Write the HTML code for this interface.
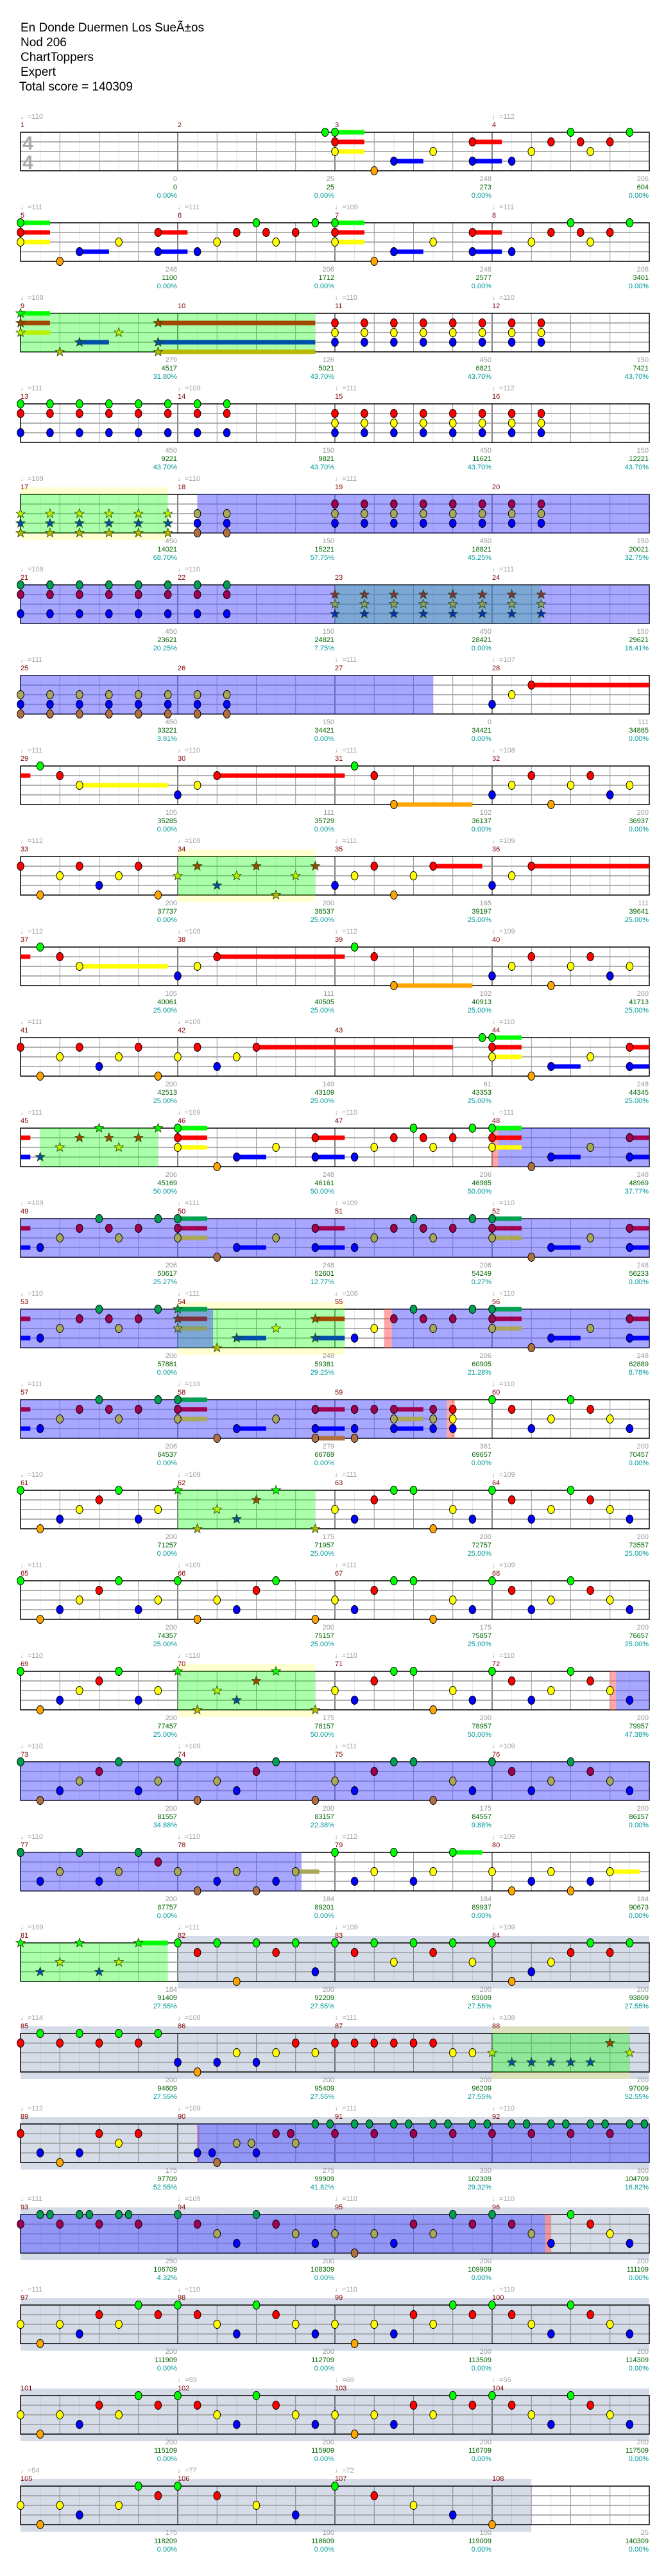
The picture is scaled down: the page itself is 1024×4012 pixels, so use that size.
<!DOCTYPE html>
<html><head><meta charset="utf-8">
<style>
html,body{margin:0;padding:0;background:#fff;}
svg{display:block;}
text{font-family:"Liberation Sans",sans-serif;}
.h{font-size:19px;fill:#000;}
.t{font-size:11px;fill:#a0a0a0;}
.m{font-size:11px;fill:#800000;}
.a{font-size:11px;fill:#999;text-anchor:end;}
.b{font-size:11px;fill:#006400;text-anchor:end;}
.c{font-size:11px;fill:#009999;text-anchor:end;}
.ts{font-size:30px;fill:#aaa;font-weight:bold;}
</style></head><body>
<svg id="s" width="1024" height="4012" viewBox="0 0 1024 4012" xmlns="http://www.w3.org/2000/svg">
<rect width="1024" height="4012" fill="#fff"/>
<g id="L"></g>
<text class="h" x="32" y="49">En Donde Duermen Los SueÃ±os</text>
<text class="h" x="32" y="72">Nod 206</text>
<text class="h" x="32" y="95">ChartToppers</text>
<text class="h" x="32" y="118">Expert</text>
<text class="h" x="30" y="141">Total score = 140309</text>
<text class="ts" x="35" y="233">4</text><text class="ts" x="35" y="263">4</text>

<g transform="translate(0,206)">
<text class="t" y="-21"><tspan x="32">♩=110</tspan><tspan x="767">♩=112</tspan></text>
<text class="m" y="-8"><tspan x="32">1</tspan><tspan x="277">2</tspan><tspan x="522">3</tspan><tspan x="767">4</tspan></text>
<text class="a" y="76"><tspan x="276">0</tspan><tspan x="521">25</tspan><tspan x="766">248</tspan><tspan x="1011">206</tspan></text>
<text class="b" y="89"><tspan x="276">0</tspan><tspan x="521">25</tspan><tspan x="766">273</tspan><tspan x="1011">604</tspan></text>
<text class="c" y="102"><tspan x="276">0.00%</tspan><tspan x="521">0.00%</tspan><tspan x="766">0.00%</tspan><tspan x="1011">0.00%</tspan></text>
</g>
<g transform="translate(0,347)">
<text class="t" y="-21"><tspan x="32">♩=111</tspan><tspan x="277">♩=111</tspan><tspan x="522">♩=109</tspan><tspan x="767">♩=111</tspan></text>
<text class="m" y="-8"><tspan x="32">5</tspan><tspan x="277">6</tspan><tspan x="522">7</tspan><tspan x="767">8</tspan></text>
<text class="a" y="76"><tspan x="276">248</tspan><tspan x="521">206</tspan><tspan x="766">248</tspan><tspan x="1011">206</tspan></text>
<text class="b" y="89"><tspan x="276">1100</tspan><tspan x="521">1712</tspan><tspan x="766">2577</tspan><tspan x="1011">3401</tspan></text>
<text class="c" y="102"><tspan x="276">0.00%</tspan><tspan x="521">0.00%</tspan><tspan x="766">0.00%</tspan><tspan x="1011">0.00%</tspan></text>
</g>
<g transform="translate(0,488)">
<text class="t" y="-21"><tspan x="32">♩=108</tspan><tspan x="522">♩=110</tspan><tspan x="767">♩=110</tspan></text>
<text class="m" y="-8"><tspan x="32">9</tspan><tspan x="277">10</tspan><tspan x="522">11</tspan><tspan x="767">12</tspan></text>
<text class="a" y="76"><tspan x="276">279</tspan><tspan x="521">126</tspan><tspan x="766">450</tspan><tspan x="1011">150</tspan></text>
<text class="b" y="89"><tspan x="276">4517</tspan><tspan x="521">5021</tspan><tspan x="766">6821</tspan><tspan x="1011">7421</tspan></text>
<text class="c" y="102"><tspan x="276">31.80%</tspan><tspan x="521">43.70%</tspan><tspan x="766">43.70%</tspan><tspan x="1011">43.70%</tspan></text>
</g>
<g transform="translate(0,629)">
<text class="t" y="-21"><tspan x="32">♩=111</tspan><tspan x="277">♩=109</tspan><tspan x="522">♩=111</tspan><tspan x="767">♩=112</tspan></text>
<text class="m" y="-8"><tspan x="32">13</tspan><tspan x="277">14</tspan><tspan x="522">15</tspan><tspan x="767">16</tspan></text>
<text class="a" y="76"><tspan x="276">450</tspan><tspan x="521">150</tspan><tspan x="766">450</tspan><tspan x="1011">150</tspan></text>
<text class="b" y="89"><tspan x="276">9221</tspan><tspan x="521">9821</tspan><tspan x="766">11621</tspan><tspan x="1011">12221</tspan></text>
<text class="c" y="102"><tspan x="276">43.70%</tspan><tspan x="521">43.70%</tspan><tspan x="766">43.70%</tspan><tspan x="1011">43.70%</tspan></text>
</g>
<g transform="translate(0,770)">
<text class="t" y="-21"><tspan x="32">♩=109</tspan><tspan x="277">♩=110</tspan><tspan x="522">♩=111</tspan></text>
<text class="m" y="-8"><tspan x="32">17</tspan><tspan x="277">18</tspan><tspan x="522">19</tspan><tspan x="767">20</tspan></text>
<text class="a" y="76"><tspan x="276">450</tspan><tspan x="521">150</tspan><tspan x="766">450</tspan><tspan x="1011">150</tspan></text>
<text class="b" y="89"><tspan x="276">14021</tspan><tspan x="521">15221</tspan><tspan x="766">18821</tspan><tspan x="1011">20021</tspan></text>
<text class="c" y="102"><tspan x="276">68.70%</tspan><tspan x="521">57.75%</tspan><tspan x="766">45.25%</tspan><tspan x="1011">32.75%</tspan></text>
</g>
<g transform="translate(0,911)">
<text class="t" y="-21"><tspan x="32">♩=108</tspan><tspan x="277">♩=110</tspan><tspan x="767">♩=111</tspan></text>
<text class="m" y="-8"><tspan x="32">21</tspan><tspan x="277">22</tspan><tspan x="522">23</tspan><tspan x="767">24</tspan></text>
<text class="a" y="76"><tspan x="276">450</tspan><tspan x="521">150</tspan><tspan x="766">450</tspan><tspan x="1011">150</tspan></text>
<text class="b" y="89"><tspan x="276">23621</tspan><tspan x="521">24821</tspan><tspan x="766">28421</tspan><tspan x="1011">29621</tspan></text>
<text class="c" y="102"><tspan x="276">20.25%</tspan><tspan x="521">7.75%</tspan><tspan x="766">0.00%</tspan><tspan x="1011">16.41%</tspan></text>
</g>
<g transform="translate(0,1052)">
<text class="t" y="-21"><tspan x="32">♩=111</tspan><tspan x="522">♩=111</tspan><tspan x="767">♩=107</tspan></text>
<text class="m" y="-8"><tspan x="32">25</tspan><tspan x="277">26</tspan><tspan x="522">27</tspan><tspan x="767">28</tspan></text>
<text class="a" y="76"><tspan x="276">450</tspan><tspan x="521">150</tspan><tspan x="766">0</tspan><tspan x="1011">111</tspan></text>
<text class="b" y="89"><tspan x="276">33221</tspan><tspan x="521">34421</tspan><tspan x="766">34421</tspan><tspan x="1011">34865</tspan></text>
<text class="c" y="102"><tspan x="276">3.91%</tspan><tspan x="521">0.00%</tspan><tspan x="766">0.00%</tspan><tspan x="1011">0.00%</tspan></text>
</g>
<g transform="translate(0,1193)">
<text class="t" y="-21"><tspan x="32">♩=111</tspan><tspan x="277">♩=110</tspan><tspan x="522">♩=111</tspan><tspan x="767">♩=108</tspan></text>
<text class="m" y="-8"><tspan x="32">29</tspan><tspan x="277">30</tspan><tspan x="522">31</tspan><tspan x="767">32</tspan></text>
<text class="a" y="76"><tspan x="276">105</tspan><tspan x="521">111</tspan><tspan x="766">102</tspan><tspan x="1011">200</tspan></text>
<text class="b" y="89"><tspan x="276">35285</tspan><tspan x="521">35729</tspan><tspan x="766">36137</tspan><tspan x="1011">36937</tspan></text>
<text class="c" y="102"><tspan x="276">0.00%</tspan><tspan x="521">0.00%</tspan><tspan x="766">0.00%</tspan><tspan x="1011">0.00%</tspan></text>
</g>
<g transform="translate(0,1334)">
<text class="t" y="-21"><tspan x="32">♩=112</tspan><tspan x="277">♩=109</tspan><tspan x="522">♩=111</tspan><tspan x="767">♩=109</tspan></text>
<text class="m" y="-8"><tspan x="32">33</tspan><tspan x="277">34</tspan><tspan x="522">35</tspan><tspan x="767">36</tspan></text>
<text class="a" y="76"><tspan x="276">200</tspan><tspan x="521">200</tspan><tspan x="766">165</tspan><tspan x="1011">111</tspan></text>
<text class="b" y="89"><tspan x="276">37737</tspan><tspan x="521">38537</tspan><tspan x="766">39197</tspan><tspan x="1011">39641</tspan></text>
<text class="c" y="102"><tspan x="276">0.00%</tspan><tspan x="521">25.00%</tspan><tspan x="766">25.00%</tspan><tspan x="1011">25.00%</tspan></text>
</g>
<g transform="translate(0,1475)">
<text class="t" y="-21"><tspan x="32">♩=112</tspan><tspan x="277">♩=108</tspan><tspan x="522">♩=112</tspan><tspan x="767">♩=109</tspan></text>
<text class="m" y="-8"><tspan x="32">37</tspan><tspan x="277">38</tspan><tspan x="522">39</tspan><tspan x="767">40</tspan></text>
<text class="a" y="76"><tspan x="276">105</tspan><tspan x="521">111</tspan><tspan x="766">102</tspan><tspan x="1011">200</tspan></text>
<text class="b" y="89"><tspan x="276">40061</tspan><tspan x="521">40505</tspan><tspan x="766">40913</tspan><tspan x="1011">41713</tspan></text>
<text class="c" y="102"><tspan x="276">25.00%</tspan><tspan x="521">25.00%</tspan><tspan x="766">25.00%</tspan><tspan x="1011">25.00%</tspan></text>
</g>
<g transform="translate(0,1616)">
<text class="t" y="-21"><tspan x="32">♩=111</tspan><tspan x="277">♩=109</tspan><tspan x="767">♩=110</tspan></text>
<text class="m" y="-8"><tspan x="32">41</tspan><tspan x="277">42</tspan><tspan x="522">43</tspan><tspan x="767">44</tspan></text>
<text class="a" y="76"><tspan x="276">200</tspan><tspan x="521">149</tspan><tspan x="766">61</tspan><tspan x="1011">248</tspan></text>
<text class="b" y="89"><tspan x="276">42513</tspan><tspan x="521">43109</tspan><tspan x="766">43353</tspan><tspan x="1011">44345</tspan></text>
<text class="c" y="102"><tspan x="276">25.00%</tspan><tspan x="521">25.00%</tspan><tspan x="766">25.00%</tspan><tspan x="1011">25.00%</tspan></text>
</g>
<g transform="translate(0,1757)">
<text class="t" y="-21"><tspan x="32">♩=111</tspan><tspan x="277">♩=109</tspan><tspan x="522">♩=110</tspan><tspan x="767">♩=111</tspan></text>
<text class="m" y="-8"><tspan x="32">45</tspan><tspan x="277">46</tspan><tspan x="522">47</tspan><tspan x="767">48</tspan></text>
<text class="a" y="76"><tspan x="276">206</tspan><tspan x="521">248</tspan><tspan x="766">206</tspan><tspan x="1011">248</tspan></text>
<text class="b" y="89"><tspan x="276">45169</tspan><tspan x="521">46161</tspan><tspan x="766">46985</tspan><tspan x="1011">48969</tspan></text>
<text class="c" y="102"><tspan x="276">50.00%</tspan><tspan x="521">50.00%</tspan><tspan x="766">50.00%</tspan><tspan x="1011">37.77%</tspan></text>
</g>
<g transform="translate(0,1898)">
<text class="t" y="-21"><tspan x="32">♩=109</tspan><tspan x="277">♩=111</tspan><tspan x="522">♩=109</tspan><tspan x="767">♩=110</tspan></text>
<text class="m" y="-8"><tspan x="32">49</tspan><tspan x="277">50</tspan><tspan x="522">51</tspan><tspan x="767">52</tspan></text>
<text class="a" y="76"><tspan x="276">206</tspan><tspan x="521">248</tspan><tspan x="766">206</tspan><tspan x="1011">248</tspan></text>
<text class="b" y="89"><tspan x="276">50617</tspan><tspan x="521">52601</tspan><tspan x="766">54249</tspan><tspan x="1011">56233</tspan></text>
<text class="c" y="102"><tspan x="276">25.27%</tspan><tspan x="521">12.77%</tspan><tspan x="766">0.27%</tspan><tspan x="1011">0.00%</tspan></text>
</g>
<g transform="translate(0,2039)">
<text class="t" y="-21"><tspan x="32">♩=110</tspan><tspan x="277">♩=111</tspan><tspan x="522">♩=108</tspan><tspan x="767">♩=110</tspan></text>
<text class="m" y="-8"><tspan x="32">53</tspan><tspan x="277">54</tspan><tspan x="522">55</tspan><tspan x="767">56</tspan></text>
<text class="a" y="76"><tspan x="276">206</tspan><tspan x="521">248</tspan><tspan x="766">206</tspan><tspan x="1011">248</tspan></text>
<text class="b" y="89"><tspan x="276">57881</tspan><tspan x="521">59381</tspan><tspan x="766">60905</tspan><tspan x="1011">62889</tspan></text>
<text class="c" y="102"><tspan x="276">0.00%</tspan><tspan x="521">29.25%</tspan><tspan x="766">21.28%</tspan><tspan x="1011">8.78%</tspan></text>
</g>
<g transform="translate(0,2180)">
<text class="t" y="-21"><tspan x="32">♩=111</tspan><tspan x="277">♩=110</tspan><tspan x="767">♩=110</tspan></text>
<text class="m" y="-8"><tspan x="32">57</tspan><tspan x="277">58</tspan><tspan x="522">59</tspan><tspan x="767">60</tspan></text>
<text class="a" y="76"><tspan x="276">206</tspan><tspan x="521">279</tspan><tspan x="766">361</tspan><tspan x="1011">200</tspan></text>
<text class="b" y="89"><tspan x="276">64537</tspan><tspan x="521">66769</tspan><tspan x="766">69657</tspan><tspan x="1011">70457</tspan></text>
<text class="c" y="102"><tspan x="276">0.00%</tspan><tspan x="521">0.00%</tspan><tspan x="766">0.00%</tspan><tspan x="1011">0.00%</tspan></text>
</g>
<g transform="translate(0,2321)">
<text class="t" y="-21"><tspan x="32">♩=110</tspan><tspan x="277">♩=109</tspan><tspan x="522">♩=111</tspan><tspan x="767">♩=109</tspan></text>
<text class="m" y="-8"><tspan x="32">61</tspan><tspan x="277">62</tspan><tspan x="522">63</tspan><tspan x="767">64</tspan></text>
<text class="a" y="76"><tspan x="276">200</tspan><tspan x="521">175</tspan><tspan x="766">200</tspan><tspan x="1011">200</tspan></text>
<text class="b" y="89"><tspan x="276">71257</tspan><tspan x="521">71957</tspan><tspan x="766">72757</tspan><tspan x="1011">73557</tspan></text>
<text class="c" y="102"><tspan x="276">0.00%</tspan><tspan x="521">25.00%</tspan><tspan x="766">25.00%</tspan><tspan x="1011">25.00%</tspan></text>
</g>
<g transform="translate(0,2462)">
<text class="t" y="-21"><tspan x="32">♩=111</tspan><tspan x="277">♩=109</tspan><tspan x="522">♩=111</tspan><tspan x="767">♩=109</tspan></text>
<text class="m" y="-8"><tspan x="32">65</tspan><tspan x="277">66</tspan><tspan x="522">67</tspan><tspan x="767">68</tspan></text>
<text class="a" y="76"><tspan x="276">200</tspan><tspan x="521">200</tspan><tspan x="766">175</tspan><tspan x="1011">200</tspan></text>
<text class="b" y="89"><tspan x="276">74357</tspan><tspan x="521">75157</tspan><tspan x="766">75857</tspan><tspan x="1011">76657</tspan></text>
<text class="c" y="102"><tspan x="276">25.00%</tspan><tspan x="521">25.00%</tspan><tspan x="766">25.00%</tspan><tspan x="1011">25.00%</tspan></text>
</g>
<g transform="translate(0,2603)">
<text class="t" y="-21"><tspan x="32">♩=110</tspan><tspan x="277">♩=110</tspan><tspan x="522">♩=110</tspan><tspan x="767">♩=110</tspan></text>
<text class="m" y="-8"><tspan x="32">69</tspan><tspan x="277">70</tspan><tspan x="522">71</tspan><tspan x="767">72</tspan></text>
<text class="a" y="76"><tspan x="276">200</tspan><tspan x="521">175</tspan><tspan x="766">200</tspan><tspan x="1011">200</tspan></text>
<text class="b" y="89"><tspan x="276">77457</tspan><tspan x="521">78157</tspan><tspan x="766">78957</tspan><tspan x="1011">79957</tspan></text>
<text class="c" y="102"><tspan x="276">25.00%</tspan><tspan x="521">50.00%</tspan><tspan x="766">50.00%</tspan><tspan x="1011">47.38%</tspan></text>
</g>
<g transform="translate(0,2744)">
<text class="t" y="-21"><tspan x="32">♩=110</tspan><tspan x="277">♩=109</tspan><tspan x="522">♩=111</tspan><tspan x="767">♩=109</tspan></text>
<text class="m" y="-8"><tspan x="32">73</tspan><tspan x="277">74</tspan><tspan x="522">75</tspan><tspan x="767">76</tspan></text>
<text class="a" y="76"><tspan x="276">200</tspan><tspan x="521">200</tspan><tspan x="766">175</tspan><tspan x="1011">200</tspan></text>
<text class="b" y="89"><tspan x="276">81557</tspan><tspan x="521">83157</tspan><tspan x="766">84557</tspan><tspan x="1011">86157</tspan></text>
<text class="c" y="102"><tspan x="276">34.88%</tspan><tspan x="521">22.38%</tspan><tspan x="766">9.88%</tspan><tspan x="1011">0.00%</tspan></text>
</g>
<g transform="translate(0,2885)">
<text class="t" y="-21"><tspan x="32">♩=110</tspan><tspan x="277">♩=110</tspan><tspan x="522">♩=112</tspan><tspan x="767">♩=109</tspan></text>
<text class="m" y="-8"><tspan x="32">77</tspan><tspan x="277">78</tspan><tspan x="522">79</tspan><tspan x="767">80</tspan></text>
<text class="a" y="76"><tspan x="276">200</tspan><tspan x="521">184</tspan><tspan x="766">184</tspan><tspan x="1011">184</tspan></text>
<text class="b" y="89"><tspan x="276">87757</tspan><tspan x="521">89201</tspan><tspan x="766">89937</tspan><tspan x="1011">90673</tspan></text>
<text class="c" y="102"><tspan x="276">0.00%</tspan><tspan x="521">0.00%</tspan><tspan x="766">0.00%</tspan><tspan x="1011">0.00%</tspan></text>
</g>
<g transform="translate(0,3026)">
<text class="t" y="-21"><tspan x="32">♩=109</tspan><tspan x="277">♩=111</tspan><tspan x="522">♩=109</tspan><tspan x="767">♩=109</tspan></text>
<text class="m" y="-8"><tspan x="32">81</tspan><tspan x="277">82</tspan><tspan x="522">83</tspan><tspan x="767">84</tspan></text>
<text class="a" y="76"><tspan x="276">184</tspan><tspan x="521">200</tspan><tspan x="766">200</tspan><tspan x="1011">200</tspan></text>
<text class="b" y="89"><tspan x="276">91409</tspan><tspan x="521">92209</tspan><tspan x="766">93009</tspan><tspan x="1011">93809</tspan></text>
<text class="c" y="102"><tspan x="276">27.55%</tspan><tspan x="521">27.55%</tspan><tspan x="766">27.55%</tspan><tspan x="1011">27.55%</tspan></text>
</g>
<g transform="translate(0,3167)">
<text class="t" y="-21"><tspan x="32">♩=114</tspan><tspan x="277">♩=108</tspan><tspan x="522">♩=111</tspan><tspan x="767">♩=108</tspan></text>
<text class="m" y="-8"><tspan x="32">85</tspan><tspan x="277">86</tspan><tspan x="522">87</tspan><tspan x="767">88</tspan></text>
<text class="a" y="76"><tspan x="276">200</tspan><tspan x="521">200</tspan><tspan x="766">200</tspan><tspan x="1011">200</tspan></text>
<text class="b" y="89"><tspan x="276">94609</tspan><tspan x="521">95409</tspan><tspan x="766">96209</tspan><tspan x="1011">97009</tspan></text>
<text class="c" y="102"><tspan x="276">27.55%</tspan><tspan x="521">27.55%</tspan><tspan x="766">27.55%</tspan><tspan x="1011">52.55%</tspan></text>
</g>
<g transform="translate(0,3308)">
<text class="t" y="-21"><tspan x="32">♩=112</tspan><tspan x="277">♩=109</tspan><tspan x="522">♩=111</tspan><tspan x="767">♩=110</tspan></text>
<text class="m" y="-8"><tspan x="32">89</tspan><tspan x="277">90</tspan><tspan x="522">91</tspan><tspan x="767">92</tspan></text>
<text class="a" y="76"><tspan x="276">175</tspan><tspan x="521">275</tspan><tspan x="766">300</tspan><tspan x="1011">300</tspan></text>
<text class="b" y="89"><tspan x="276">97709</tspan><tspan x="521">99909</tspan><tspan x="766">102309</tspan><tspan x="1011">104709</tspan></text>
<text class="c" y="102"><tspan x="276">52.55%</tspan><tspan x="521">41.82%</tspan><tspan x="766">29.32%</tspan><tspan x="1011">16.82%</tspan></text>
</g>
<g transform="translate(0,3449)">
<text class="t" y="-21"><tspan x="32">♩=111</tspan><tspan x="277">♩=109</tspan><tspan x="522">♩=110</tspan><tspan x="767">♩=110</tspan></text>
<text class="m" y="-8"><tspan x="32">93</tspan><tspan x="277">94</tspan><tspan x="522">95</tspan><tspan x="767">96</tspan></text>
<text class="a" y="76"><tspan x="276">250</tspan><tspan x="521">200</tspan><tspan x="766">200</tspan><tspan x="1011">200</tspan></text>
<text class="b" y="89"><tspan x="276">106709</tspan><tspan x="521">108309</tspan><tspan x="766">109909</tspan><tspan x="1011">111109</tspan></text>
<text class="c" y="102"><tspan x="276">4.32%</tspan><tspan x="521">0.00%</tspan><tspan x="766">0.00%</tspan><tspan x="1011">0.00%</tspan></text>
</g>
<g transform="translate(0,3590)">
<text class="t" y="-21"><tspan x="32">♩=111</tspan><tspan x="277">♩=110</tspan><tspan x="522">♩=110</tspan><tspan x="767">♩=110</tspan></text>
<text class="m" y="-8"><tspan x="32">97</tspan><tspan x="277">98</tspan><tspan x="522">99</tspan><tspan x="767">100</tspan></text>
<text class="a" y="76"><tspan x="276">200</tspan><tspan x="521">200</tspan><tspan x="766">200</tspan><tspan x="1011">200</tspan></text>
<text class="b" y="89"><tspan x="276">111909</tspan><tspan x="521">112709</tspan><tspan x="766">113509</tspan><tspan x="1011">114309</tspan></text>
<text class="c" y="102"><tspan x="276">0.00%</tspan><tspan x="521">0.00%</tspan><tspan x="766">0.00%</tspan><tspan x="1011">0.00%</tspan></text>
</g>
<g transform="translate(0,3731)">
<text class="t" y="-21"><tspan x="277">♩=93</tspan><tspan x="522">♩=69</tspan><tspan x="767">♩=55</tspan></text>
<text class="m" y="-8"><tspan x="32">101</tspan><tspan x="277">102</tspan><tspan x="522">103</tspan><tspan x="767">104</tspan></text>
<text class="a" y="76"><tspan x="276">200</tspan><tspan x="521">200</tspan><tspan x="766">200</tspan><tspan x="1011">200</tspan></text>
<text class="b" y="89"><tspan x="276">115109</tspan><tspan x="521">115909</tspan><tspan x="766">116709</tspan><tspan x="1011">117509</tspan></text>
<text class="c" y="102"><tspan x="276">0.00%</tspan><tspan x="521">0.00%</tspan><tspan x="766">0.00%</tspan><tspan x="1011">0.00%</tspan></text>
</g>
<g transform="translate(0,3872)">
<text class="t" y="-21"><tspan x="32">♩=54</tspan><tspan x="277">♩=77</tspan><tspan x="522">♩=72</tspan></text>
<text class="m" y="-8"><tspan x="32">105</tspan><tspan x="277">106</tspan><tspan x="522">107</tspan><tspan x="767">108</tspan></text>
<text class="a" y="76"><tspan x="276">175</tspan><tspan x="521">100</tspan><tspan x="766">100</tspan><tspan x="1011">25</tspan></text>
<text class="b" y="89"><tspan x="276">118209</tspan><tspan x="521">118609</tspan><tspan x="766">119009</tspan><tspan x="1011">140309</tspan></text>
<text class="c" y="102"><tspan x="276">0.00%</tspan><tspan x="521">0.00%</tspan><tspan x="766">0.00%</tspan><tspan x="1011">0.00%</tspan></text>
</g>
</svg>
<script>
(function(){
var NS="http://www.w3.org/2000/svg",L=document.getElementById('L');
function el(t,a,p){var e=document.createElementNS(NS,t);for(var k in a)e.setAttribute(k,a[k]);(p||L).appendChild(e);return e;}
var X=function(e){return 32+e*30.625;};
var LC={g:'#00ff00',r:'#ff0000',y:'#ffff00',b:'#0000ff',o:'#ffa500'};
var MC={g:'#00a050',r:'#a00050',y:'#a8a858',b:'#0000ff',o:'#b07040'};
var SC={g:'#00ff00',r:'#a04800',y:'#b8f000',b:'#0050a8',o:'#b8b800'};
var SMC={g:'#00a050',r:'#803040',y:'#90a060',b:'#0030c0',o:'#a09040'};
var LY={g:0,r:15,y:30,b:45,o:60};
function sh(s,o){return s.trim().split(/\s+/).map(function(t){var m=t.match(/^(_?)([a-z])([\d.]+)(?:-([\d.]+))?$/);var r=m[1]+m[2]+(parseFloat(m[3])+o);if(m[4])r+='-'+(parseFloat(m[4])+o);return r;}).join(' ');}
function ch(lanes,arr){var o=[];arr.forEach(function(e){lanes.split('').forEach(function(l){o.push(l+e);});});return o.join(' ');}
var Q="g0-1.5 r0-1.5 y0-1.5 o2 b3-4.5 y5 r7-8.5 b7-8.5 b9 y10 r11 g12 r12.5 y13 r14 g15";
var TT="b1 y2 r3 g4 r4.5 y5 r6 g7";
var REM="_r0-0.5 _b0-0.5 ";
var W="g0 o1 b2 y3 r4 g5 b6 y7 g8 o9 y10 b11 r12 g13 o15 y16 b17 r18 g19 g20 o21 y22 b23 g24 r25 b26 y27 g28 r29 y30 b31";
var V="_r0-0.5 g1 r2 y3-7.5 b8 y9 r10-16.5 g17 r18 o19-23 b24 y25 r26 o27 y28 r29 b30 y31";
var X8="y0 o1 y2 b3 r4 y5 g6 r7 g8 r9 y10 b11 g12 r13 y14 b15 y16 o17 y18 b19 r20 y21 g22 r23 g24 r25 y26 b27 g28 r29 y30 b31";
var C16=[16,17.5,19,20.5,22,23.5,25,26.5],C0=[0,1.5,3,4.5,6,7.5,9,10.5];
var rows=[
["", "g15.5 "+sh(Q,16)],
["", Q+" "+sh(Q,16)],
["g0-15", "g0-1.5 r0-1.5 y0-1.5 o2 b3-4.5 y5 r7-15 b7-15 o7-15 "+ch('ryb',C16)],
["", ch('grb',C0)+" "+ch('ryb',C16)],
["y0-7.5 B9-32", ch('ybo',[0,1.5,3,4.5,6,7.5,9,10.5])+" "+ch('ryb',C16)],
["B0-32 g16-26.5", ch('grb',C0)+" "+ch('ryb',C16)],
["B0-21", ch('ybo',C0)+" b24 y25 r26-32"],
["", V],
["y8-15", "r0 o1 y2 r3 b4 y5 r6 o7 y8 r9 b10 y11 r12 o13 y14 r15 b16 y17 r18 o19 y20 r21-23.5 b24 y25 r26-32"],
["", V],
["", "r0 o1 y2 r3 b4 y5 r6 o7 y8 r9 b10 y11 r12-22 g23.5 g24-25.5 r24-25.5 y24-25.5 o26 b27-28.5 y29 r31-32 b31-32"],
["g1-7 B24.3-32 P24-24.3", REM+TT+" "+sh(Q,8)+" "+sh(Q,24)],
["B0-32", REM+TT+" "+sh(Q,8)+" "+sh(Q,24)],
["B0-9.8 y8-16.5 P18.5-18.9 B18.9-32", REM+TT+" "+sh(Q,8)+" "+sh(Q,24)],
["B0-21.7 P21.7-22.1", REM+TT+" g8-9.5 r8-9.5 y8-9.5 o10 b11-12.5 y13 r15-16.5 b15-16.5 o15-16.5 r17 b17 o17 r18 r19-20.5 y19-20.5 b19-20.5 r21 y21 b21 r22 y22 b22 g24 r25 b26 y27 g28 r29 y30 b31"],
["g8-15", W],
["", W],
["y8-15 P30-30.3 B30.3-32", W],
["B0-32", W],
["B0-14.3", "g0 b1 y2 g3 b4 y5 g6 r7 y8 o9 b10 y11 o12 b13 y14-15.2 g16 b17 y18 g19 b20 y21 g22-23.5 y24 o25 b26 y27 o28 b29 y30-31.5"],
["g0-7.5 G8-32", "g0 b1 y2 g3 b4 y5 g6-7.5 g8 r9 g10 o11 g12 r13 g14 b15 g16 r17 g18 y19 g20 r21 g22 y23 g24 o25 b26 y27 r28 g29 r30 g31"],
["G0-32 y24-31", "r0 g1 r2 g3 r4 g5 r6 g7 b8 o9 b10 y11 b12 y13 r14 y15 r16 r17 r18 r19 r20 r21 y22 y23 y24 b25 b26 b27 b28 b29 r30 y31"],
["G0-32 P9-9.1 B9-32", "r0 b1 o2 b3 r4 y5 r6 b9 b9.75 o10 y11 y11.75 b12 r13 r13.75 y14 g15 g15.75 r16 g17 g17.75 r18 g19 g19.75 r20 g21 g21.75 r22 g23 g23.75 r24 g25 g25.75 r26 g27 g27.75 r28 g29 g29.75 r30 g31 g31.75"],
["G0-32 B0-26.7 P26.7-27", "r0 g1 g1.5 r2 g3 g3.5 r4 g5 g5.5 r6 g8 r9 y10 b11 g12 r13 y14 b15 y16 o17 y18 b19 r20 y21 g22 r23 g24 r25 y26 b27 g28 r29 y30 b31"],
["G0-32", X8],
["G0-32", X8],
["G0-26", "y0 o1 y2 b3 y5 g6 r7 g8 r10 y12 b14 g16 r18 y20 b22 o24"]
];
var gBg=el('g',{}),gGrid=el('g',{}),gOvG=el('g',{}),gOv=el('g',{}),gSus=el('g',{}),gN=el('g',{});
function star(cx,cy,r,f,p){var pts=[];for(var i=0;i<10;i++){var a=-Math.PI/2+i*Math.PI/5,rr=i%2?r*0.42:r;pts.push((cx+rr*Math.cos(a)).toFixed(1)+','+(cy+rr*Math.sin(a)).toFixed(1));}el('polygon',{points:pts.join(' '),fill:f,stroke:'#224400','stroke-width':0.8},p);}
rows.forEach(function(row,r){
 var T=206+141*r,bl=[],gl=[];
 row[0].trim().split(/\s+/).forEach(function(t){if(!t)return;var m=t.match(/^([A-Za-z])([\d.]+)-([\d.]+)$/);var k=m[1],a=+m[2],b=+m[3],x1=X(a),w=X(b)-x1;
  if(k=='G')el('rect',{x:x1,y:T-11,width:w,height:82,fill:'#d5dce8'},gBg);
  else if(k=='B'){el('rect',{x:x1,y:T,width:w,height:60,fill:'rgba(80,80,255,0.5)'},gOv);bl.push([a,b]);}
  else if(k=='g'||k=='y'){el('rect',{x:x1,y:T,width:w,height:60,fill:'rgba(0,255,0,0.33)'},gOvG);gl.push([a,b]);
   if(k=='y'){el('rect',{x:x1,y:T-11,width:w,height:11,fill:'rgba(255,255,0,0.18)'},gOvG);el('rect',{x:x1,y:T+60,width:w,height:11,fill:'rgba(255,255,0,0.18)'},gOvG);}}
  else if(k=='P')el('rect',{x:x1,y:T,width:w,height:60,fill:'rgba(255,80,80,0.5)'},gOv);
 });
 for(var i=1;i<32;i++){var x=X(i);el('line',{x1:x,y1:T,x2:x,y2:T+60,stroke:i%8==0?'#000':(i%2==0?'rgba(0,0,0,0.4)':'rgba(0,0,0,0.1)'),'stroke-width':1},gGrid);}
 [15,30,45].forEach(function(d){el('line',{x1:32,y1:T+d,x2:1012,y2:T+d,stroke:'#999','stroke-width':1.5},gGrid);});
 el('rect',{x:32,y:T,width:980,height:60,fill:'none',stroke:'#000','stroke-width':1.5},gGrid);
 row[1].trim().split(/\s+/).forEach(function(t){var m=t.match(/^(_?)([a-z])([\d.]+)(?:-([\d.]+))?$/);if(!m)return;
  var e=+m[3],l=m[2],y=T+LY[l];
  var inB=bl.some(function(q){return e>=q[0]-0.01&&e<q[1]-0.01;});
  var inS=gl.some(function(q){return e>=q[0]-0.01&&e<=q[1]+0.01;});
  var pal=inS?(inB?SMC:SC):(inB?MC:LC),c=pal[l];
  if(m[4]){var en=Math.min(+m[4],32);el('rect',{x:X(e),y:y-3.5,width:X(en)-X(e),height:7,fill:c},gSus);}
  if(m[1])return;
  if(inS)star(X(e),y,7.5,c,gN);
  else el('ellipse',{cx:X(e),cy:y,rx:5.3,ry:6.5,fill:c,stroke:'#000','stroke-width':0.9},gN);
 });
});
})();
</script>
</body></html>
